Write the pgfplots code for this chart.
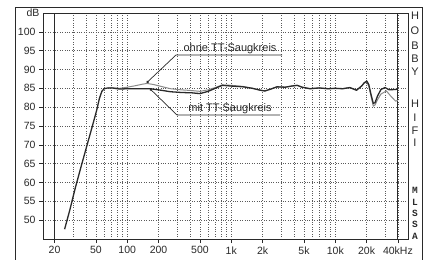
\documentclass[border=0pt]{standalone}
\usepackage{pgfplots}
\pgfplotsset{compat=1.18}
\usepackage{fontspec}
\setmainfont{Liberation Sans}
\newfontfamily\monob{Liberation Mono}
\usetikzlibrary{arrows.meta}
\definecolor{ink}{HTML}{2A2A2A}
\definecolor{gridc}{HTML}{5A5A5A}
\definecolor{greyc}{HTML}{8A8A8A}
\pgfplotstableread{
f db
25 47.6
28 52.6
31.5 58.3
35.5 63.6
40.5 69.3
45.5 74.3
51 79.3
54 82.3
57 84.2
60 84.9
65 85.1
72 85.1
85 84.8
100 84.9
130 84.9
165 84.9
200 84.6
260 84.1
330 83.9
420 83.8
500 83.6
600 84.2
700 85.0
820 85.8
1000 85.6
1300 85.4
1600 85.0
1900 84.5
2100 84.3
2400 84.8
2750 85.4
3300 85.3
3800 85.6
4300 85.8
4800 85.3
5700 84.9
7000 85.1
8500 84.9
10000 85.0
11800 84.9
13800 85.2
16000 84.5
17900 85.6
19000 86.5
20100 86.9
21000 86.0
22000 83.5
23200 81.0
24100 81.2
25500 83.0
27500 84.7
30100 85.2
33000 84.6
37900 84.7
40000 84.8
}\mit
\pgfplotstableread{
f db
65 85.1
72 85.1
85 85.0
100 85.3
120 85.7
140 86.1
155 86.3
180 86.0
220 85.4
260 84.9
330 84.6
420 84.4
500 84.2
600 84.6
700 85.2
820 85.9
1000 85.8
1300 85.5
1600 85.0
1900 84.5
2100 84.3
2400 84.8
2750 85.4
3300 85.3
3800 85.6
4300 85.8
4800 85.3
5700 84.9
7000 85.1
8500 84.9
10000 85.0
11800 84.9
13800 85.2
16000 84.5
17900 85.6
19000 86.4
20100 86.7
21000 85.5
22000 83.0
23200 80.3
24100 80.6
25500 82.0
27500 83.5
31000 84.3
34000 83.0
38000 81.6
40000 81.8
}\ohne
\begin{document}
\begin{tikzpicture}[x=1pt,y=1pt]
\useasboundingbox (0,0) rectangle (427,259);
\fill[white] (0,0) rectangle (427,259);
% outer frame
\draw[ink, line width=0.8pt] (15,-5) -- (15,252) -- (422,252) -- (422,-5);
\begin{axis}[
  at={(43pt,20pt)}, anchor=south west,
  scale only axis, width=365pt, height=226pt,
  xmode=log, xmin=15.5, xmax=50000, ymin=45, ymax=105,
  xtick={20,50,100,200,500,1000,2000,5000,10000,20000,40000},
  xticklabels={20,50,100,200,500,1k,2k,5k,10k,20k,40kHz},
  minor xtick={30,40,60,70,80,90,300,400,600,700,800,900,3000,4000,6000,7000,8000,9000,30000},
  ytick={50,55,...,100},
  extra y ticks={105}, extra y tick labels={dB},
  extra y tick style={major tick length=0pt, grid=none},
  tick pos=left, tick align=outside,
  major tick length=4pt, minor tick length=0pt,
  grid=both,
  major grid style={gridc, dotted, line width=0.6pt},
  minor grid style={gridc, dotted, line width=0.6pt},
  axis line style={ink, line width=0.8pt},
  tick style={ink, line width=0.6pt},
  ticklabel style={font=\fontsize{10.5}{12}\selectfont, text=ink},
  /pgf/number format/assume math mode=true,
  clip=true,
]
\draw[ink, line width=1pt] (axis cs:20,45) -- (axis cs:20,105);
\draw[ink, line width=1pt] (axis cs:40000,45) -- (axis cs:40000,105);
\addplot[greyc, line width=1pt, no marks] table[x=f,y=db] {\ohne};
\addplot[ink, line width=1.3pt, no marks] table[x=f,y=db] {\mit};
\coordinate (pOhne) at (axis cs:154,86.5);
\coordinate (pMit) at (axis cs:165,84.9);
\end{axis}
\draw[ink, line width=0.7pt, {Circle[length=2.5pt]}-] (pOhne) -- (176,204) -- (282,204);
\draw[ink, line width=0.7pt, {Circle[length=2.5pt]}-] (pMit) -- (177,144) -- (280,144);
\draw[ink, line width=0.8pt] (408,20) -- (408,246);
\node[anchor=base, text=ink, font=\fontsize{11}{13}\selectfont] at (230,207) {ohne TT-Saugkreis};
\node[anchor=base, text=ink, font=\fontsize{11}{13}\selectfont] at (230,147) {mit TT-Saugkreis};
\foreach \l/\y in {H/16,O/31,B/46,B/59,Y/72,H/104,I/118,F/131,I/143}
  \node[text=ink, font=\fontsize{11}{13}\selectfont, inner sep=0pt] at (415,259-\y) {\l};
\foreach \l/\y in {M/190,L/202,S/213,S/224,A/236}
  \node[text=ink, font=\monob\bfseries\fontsize{9.5}{11}\selectfont, inner sep=0pt] at (415,259-\y) {\l};
\end{tikzpicture}
\end{document}
